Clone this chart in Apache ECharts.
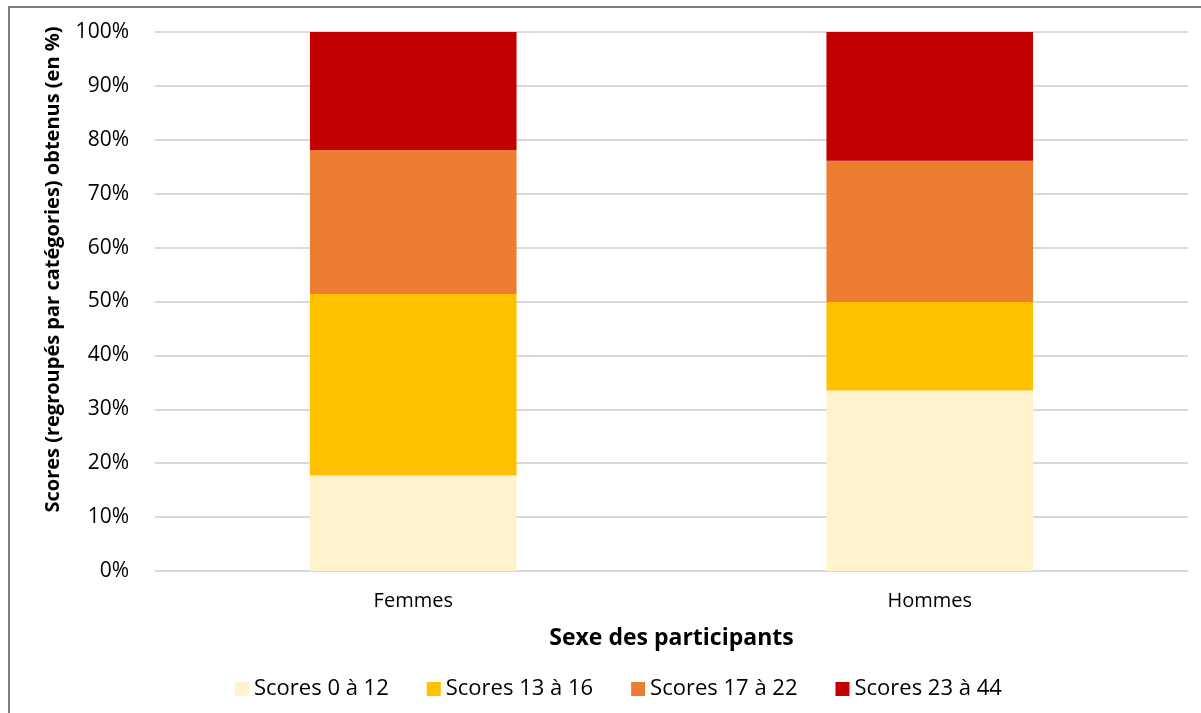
<!DOCTYPE html>
<html>
<head>
<meta charset="utf-8">
<script src="https://cdn.jsdelivr.net/npm/echarts@6/dist/echarts.min.js"></script>
<style>
  html, body { margin: 0; padding: 0; background: #fff; }
  #chart { width: 1201px; height: 713px; }
</style>
</head>
<body>
<div id="chart"></div>
<script>
// categories and values (in %)
var categories = ["Femmes", "Hommes"];
var seriesNames = ["Scores 0 à 12", "Scores 13 à 16", "Scores 17 à 22", "Scores 23 à 44"];
var scores0to12 = [17.7, 33.5];
var scores13to16 = [33.7, 16.4];
var scores17to22 = [26.7, 26.2];
var scores23to44 = [21.9, 23.9];
var colors = ["#FFF2CC", "#FFC000", "#ED7D31", "#C00000"];

var valueLists = [scores0to12, scores13to16, scores17to22, scores23to44];
var font = "'Open Sans', sans-serif";

var serieslist = [];
seriesNames.forEach(function (name, i) {
  serieslist.push({
    name: name,
    type: "bar",
    stack: "total",
    barWidth: "40%",
    itemStyle: { color: colors[i] },
    data: valueLists[i],
  });
});

var myChart = echarts.init(document.getElementById("chart"));
myChart.setOption({
  animation: false,
  color: colors,
  grid: { left: 155, right: 13, top: 32, bottom: 142 },
  legend: {
    bottom: 8,
    left: 230,
    itemWidth: 14,
    itemHeight: 14,
    itemGap: 38,
    icon: "rect",
    textStyle: { fontFamily: font, fontSize: 22, color: "#000" },
    data: seriesNames,
  },
  xAxis: {
    type: "category",
    data: categories,
    name: "Sexe des participants",
    nameLocation: "middle",
    nameGap: 56,
    nameTextStyle: { fontFamily: font, fontSize: 23, fontWeight: "bold", color: "#000" },
    axisLine: { show: true, lineStyle: { color: "#d9d9d9", width: 1 } },
    axisTick: { show: false },
    axisLabel: { fontFamily: font, fontSize: 20, color: "#000", margin: 20 },
  },
  yAxis: {
    type: "value",
    min: 0,
    max: 100,
    interval: 10,
    name: "Scores (regroupés par catégories) obtenus (en %)",
    nameLocation: "middle",
    nameGap: 92,
    nameTextStyle: {
      fontFamily: font,
      fontSize: 20,
      fontWeight: "bold",
      color: "#000",
      padding: [0, 0, 0, 64],
    },
    axisLine: { show: false },
    axisTick: { show: false },
    axisLabel: { fontFamily: font, fontSize: 21, color: "#000", margin: 26, formatter: "{value}%" },
    splitLine: { show: true, lineStyle: { color: "#d9d9d9", width: 2 } },
  },
  graphic: [
    {
      type: "polyline",
      silent: true,
      shape: { points: [[9, 713], [9, 7], [1201, 7]] },
      style: { stroke: "#7f7f7f", lineWidth: 2, fill: null },
    },
  ],
  series: serieslist,
});
</script>
</body>
</html>
